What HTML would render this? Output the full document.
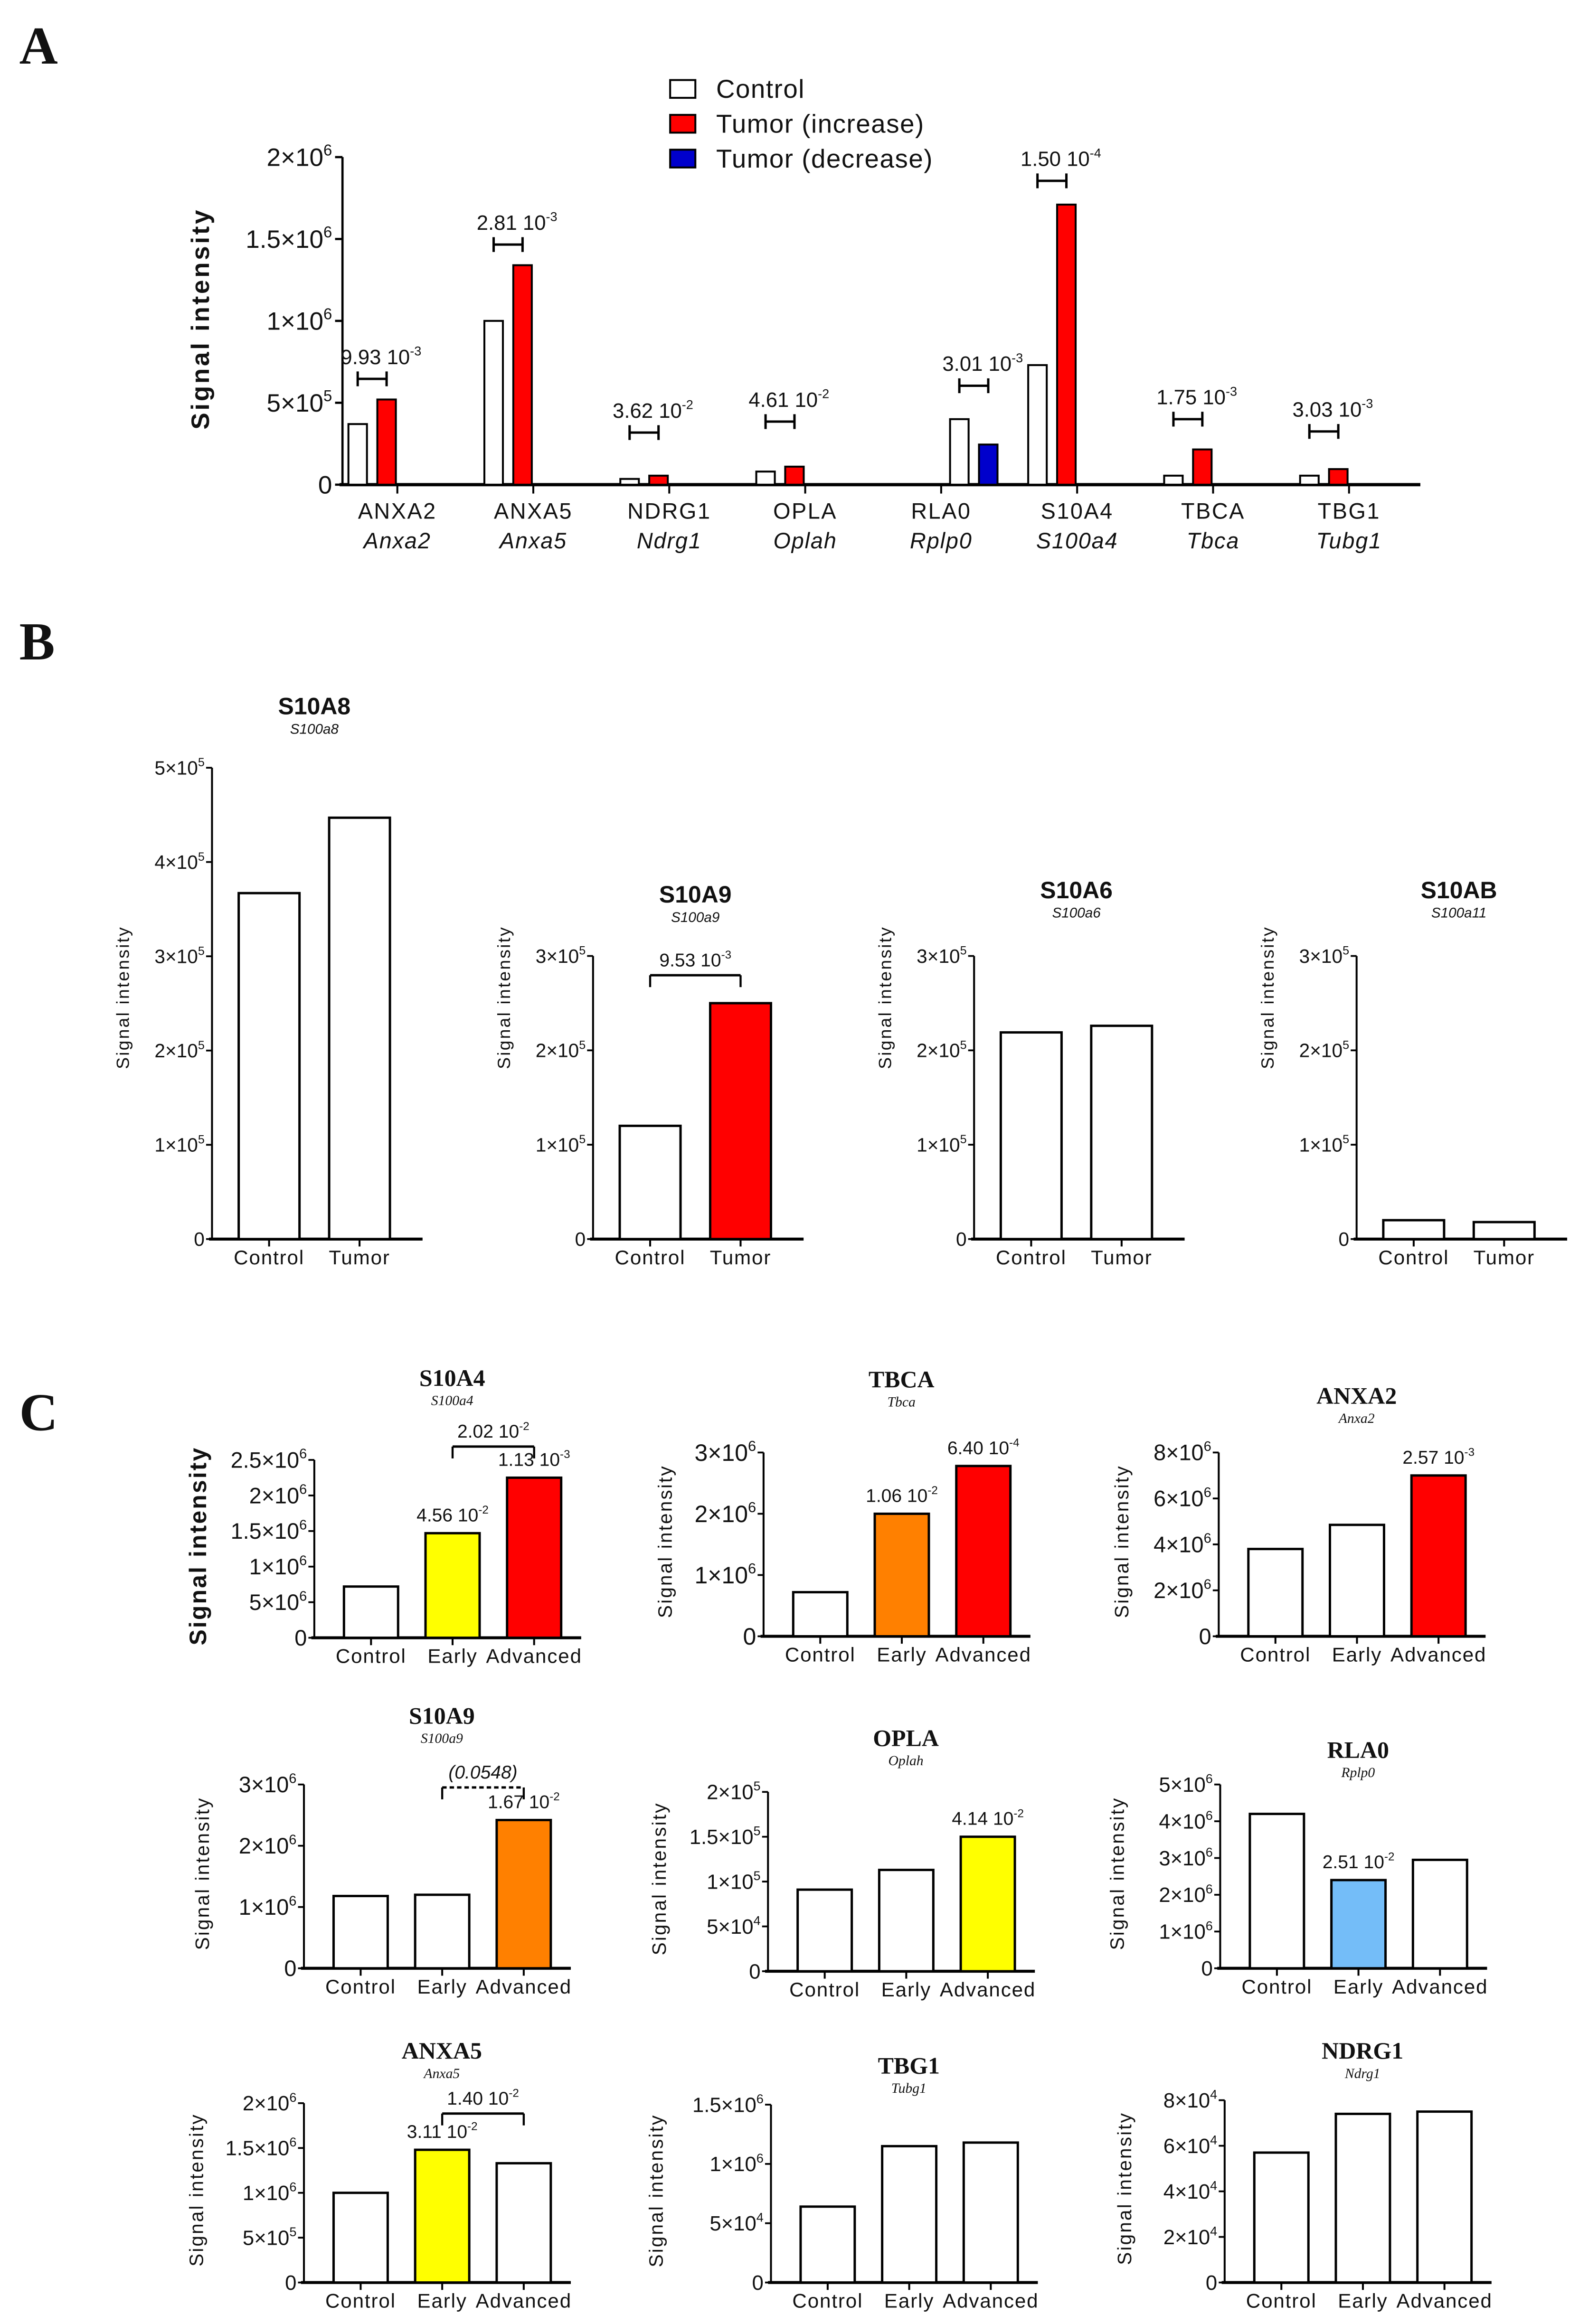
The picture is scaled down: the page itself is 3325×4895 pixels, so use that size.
<!DOCTYPE html>
<html><head><meta charset="utf-8">
<style>
html,body{margin:0;padding:0;background:#fff;}
svg{display:block;}
text{font-family:"Liberation Sans",sans-serif;fill:#111;}
.serif{font-family:"Liberation Serif",serif;}
</style></head>
<body>
<svg id="fig" xmlns="http://www.w3.org/2000/svg" width="3325" height="4895" viewBox="0 0 1065 1568" preserveAspectRatio="none">
<rect x="0" y="0" width="1065" height="1568" fill="#fff"/>
</svg>
<script>
// ---------- Panel A data ----------
const aCategories = ["ANXA2","ANXA5","NDRG1","OPLA","RLA0","S10A4","TBCA","TBG1"];
const aGenes = ["Anxa2","Anxa5","Ndrg1","Oplah","Rplp0","S100a4","Tbca","Tubg1"];
const aControl = [370000,1000000,35000,80000,400000,730000,55000,55000];
const aTumor = [520000,1340000,55000,110000,245000,1710000,215000,95000];
const aTumorKind = ["inc","inc","inc","inc","dec","inc","inc","inc"];
const aBracket = [646000,1466000,318000,385000,604000,1855000,400000,325000];
const aPMant = ["9.93 10","2.81 10","3.62 10","4.61 10","3.01 10","1.50 10","1.75 10","3.03 10"];
const aPExp = ["-3","-3","-2","-2","-3","-4","-3","-3"];
const aTicks = [0,500000,1000000,1500000,2000000];
const aTickMant = ["0","5×10","1×10","1.5×10","2×10"];
const aTickExp = ["","5","6","6","6"];

// ---------- Panel B data ----------
const bTitles = ["S10A8","S10A9","S10A6","S10AB"];
const bGenes = ["S100a8","S100a9","S100a6","S100a11"];
const bControl = [367000,120000,219000,20000];
const bTumor = [447000,250000,226000,18000];
const bTumorFill = ["#fff","#ff0000","#fff","#fff"];
const bGroups = ["Control","Tumor"];

// ---------- Panel C data ----------
const cTitles = ["S10A4","TBCA","ANXA2","S10A9","OPLA","RLA0","ANXA5","TBG1","NDRG1"];
const cGenes = ["S100a4","Tbca","Anxa2","S100a9","Oplah","Rplp0","Anxa5","Tubg1","Ndrg1"];
const cGroups = ["Control","Early","Advanced"];
const cControl = [720000,720000,3800000,1180000,91000,4200000,1000000,640000,57000];
const cEarly = [1470000,2000000,4850000,1200000,113000,2400000,1480000,1150000,74000];
const cAdvanced = [2250000,2780000,7000000,2420000,150000,2950000,1330000,1180000,75000];

const svg = document.getElementById('fig');
const NS = 'http://www.w3.org/2000/svg';
function mk(tag, attrs, parent){
  const e = document.createElementNS(NS, tag);
  for (const k in attrs) e.setAttribute(k, attrs[k]);
  (parent||svg).appendChild(e);
  return e;
}
function supText(x, y, mant, exp, size, anchor, extra){
  const t = mk('text', Object.assign({x:x, y:y, 'font-size':size, 'text-anchor':anchor||'middle'}, extra||{}));
  const s1 = mk('tspan', {}, t); s1.textContent = mant;
  if (exp){ const s2 = mk('tspan', {dy: -size*0.42, 'font-size': size*0.62}, t); s2.textContent = exp; }
  return t;
}
function line(x1,y1,x2,y2,w,dash){
  const a = {x1:x1,y1:y1,x2:x2,y2:y2,stroke:'#000','stroke-width':w||1.5};
  if (dash) a['stroke-dasharray'] = dash;
  return mk('line', a);
}
function letter(ch, x, y){
  const t = mk('text', {x:x,y:y,'font-size':36,'font-weight':'bold',class:'serif'});
  t.textContent = ch;
  
  
}

// =========== PANEL A ===========
letter('A', 13, 43);
(function(){
  const ax = 231, base = 327, topY = 106, tmax = 2000000, xend = 958;
  const Y = v => base - (v/tmax)*(base-topY);
  const tick0 = 268, step = 91.7, bw = 12.5;
  const slotX = (i,k) => tick0 + step*i - 33 + 19.5*k;
  const yl = line(ax, topY, ax, base, 1.5);
  
  
  const xl = line(ax-2, base, xend, base, 2.2);
  
  
  aTicks.forEach((v,i)=>{
    line(ax-5, Y(v), ax, Y(v), 1.5);
    const t = supText(ax-7, Y(v)+6, aTickMant[i], aTickExp[i], 17, 'end');
    
    
  });
  const yt = mk('text', {x:0,y:0,'font-size':17,'font-weight':'bold','text-anchor':'middle','letter-spacing':'1.5',transform:`translate(141,215) rotate(-90)`});
  yt.textContent = 'Signal intensity';
  
  
  aCategories.forEach((c,i)=>{
    const k0 = aTumorKind[i]==='dec' ? 2 : 0;
    const cx = slotX(i,k0), tx = slotX(i,k0+1);
    const r1 = mk('rect', {x:cx, y:Y(aControl[i]), width:bw, height:base-Y(aControl[i]), fill:'#fff', stroke:'#000','stroke-width':1.3});
    
    
    const r2 = mk('rect', {x:tx, y:Y(aTumor[i]), width:bw, height:base-Y(aTumor[i]), fill: aTumorKind[i]==='dec' ? '#0000cc' : '#ff0000', stroke:'#000','stroke-width':1.3});
    
    
    const tk = tick0 + step*i;
    line(tk, base, tk, base+6, 1.3);
    const l1 = mk('text', {x:tk, y:350, 'font-size':15, 'text-anchor':'middle','letter-spacing':'0.8'});
    l1.textContent = c;
    
    
    const l2 = mk('text', {x:tk, y:370, 'font-size':15, 'text-anchor':'middle','font-style':'italic','letter-spacing':'0.6'});
    l2.textContent = aGenes[i];
    
    
    const bx1 = cx + bw/2, bx2 = tx + bw/2, by = Y(aBracket[i]);
    line(bx1, by, bx2, by, 1.6);
    line(bx1, by-5, bx1, by+5, 1.6);
    line(bx2, by-5, bx2, by+5, 1.6);
    const p = supText((bx1+bx2)/2 + 6, by-10, aPMant[i], aPExp[i], 14, 'middle');
    
    
  });
  const leg = [['Control','#fff'],['Tumor (increase)','#ff0000'],['Tumor (decrease)','#0000cc']];
  leg.forEach((L,i)=>{
    const y = 60 + i*23.5;
    const r = mk('rect', {x:452, y:y-6, width:17, height:12, fill:L[1], stroke:'#000','stroke-width':1.3});
    
    
    const t = mk('text', {x:483, y:y+6, 'font-size':17.5, 'letter-spacing':'0.5'});
    t.textContent = L[0];
    
    
  });
})();

// =========== generic small bar panel ===========
function barPanel(o){
  const Y = v => o.base - (v/o.tmax)*(o.base-o.topY);
  const yl = line(o.ax, o.topY, o.ax, o.base, 1.3);
  
  
  const xl = line(o.ax-2, o.base, o.xend, o.base, 2);
  
  
  o.ticks.forEach((v,i)=>{
    line(o.ax-4, Y(v), o.ax, Y(v), 1.2);
    const t = supText(o.ax-5, Y(v)+o.tfs*0.35, o.tickMant[i], o.tickExp[i], o.tfs, 'end');
    
    
  });
  const yt = mk('text', {x:0,y:0,'font-size':o.yfs,'font-weight':o.ybold?'bold':'normal','text-anchor':'middle','letter-spacing':'1',transform:`translate(${o.ytx},${o.yty}) rotate(-90)`});
  yt.textContent = 'Signal intensity';
  
  
  const xs = [];
  o.values.forEach((v,i)=>{
    const x = o.x0 + o.step*i;
    xs.push(x + o.bw/2);
    const r = mk('rect', {x:x, y:Y(v), width:o.bw, height:o.base-Y(v), fill:o.fills[i], stroke:'#000','stroke-width':1.6});
    
    
    line(x+o.bw/2, o.base, x+o.bw/2, o.base+5, 1.3);
    const l = mk('text', {x:x+o.bw/2, y:o.base+17, 'font-size':13.5, 'text-anchor':'middle','letter-spacing':'0.6'});
    l.textContent = o.groups[i];
    
    
  });
  const ti = mk('text', {x:o.titleX, y:o.titleY, 'font-size':o.titleFs, 'font-weight':'bold','text-anchor':'middle', class:o.serif?'serif':''});
  ti.textContent = o.title;
  
  
  const ge = mk('text', {x:o.titleX, y:o.titleY+13, 'font-size':9.5, 'font-style':'italic','text-anchor':'middle', class:o.serif?'serif':'', fill:'#444'});
  ge.textContent = o.gene;
  
  
  (o.annots||[]).forEach(a=>{
    const t = supText(xs[a.i], Y(o.values[a.i]) - 8, a.m, a.e, 12.5, 'middle');
    
    
  });
  (o.brackets||[]).forEach(b=>{
    const x1 = xs[b.i], x2 = xs[b.j], by = b.y;
    line(x1, by, x2, by, 1.6, b.dash);
    line(x1, by, x1, by+8, 1.4);
    line(x2, by, x2, by+8, 1.4);
    const t = supText((x1+x2)/2, by-6, b.m, b.e, 12.5, 'middle', b.italic?{'font-style':'italic'}:{});
    
    
  });
}

// =========== PANEL B ===========
letter('B', 13, 445);
const bLayout = [
  {ax:143, topY:518, tmax:500000, ticks:[0,100000,200000,300000,400000,500000], tickMant:["0","1×10","2×10","3×10","4×10","5×10"], tickExp:["","5","5","5","5","5"], titleY:482},
  {ax:400, topY:645, tmax:300000, ticks:[0,100000,200000,300000], tickMant:["0","1×10","2×10","3×10"], tickExp:["","5","5","5"], titleY:609},
  {ax:657, topY:645, tmax:300000, ticks:[0,100000,200000,300000], tickMant:["0","1×10","2×10","3×10"], tickExp:["","5","5","5"], titleY:606},
  {ax:915, topY:645, tmax:300000, ticks:[0,100000,200000,300000], tickMant:["0","1×10","2×10","3×10"], tickExp:["","5","5","5"], titleY:606}
];
bTitles.forEach((t,i)=>{
  const L = bLayout[i];
  barPanel({id:'b-'+t.toLowerCase(), ax:L.ax, base:836, topY:L.topY, tmax:L.tmax, xend:L.ax+142,
    ticks:L.ticks, tickMant:L.tickMant, tickExp:L.tickExp, tfs:13,
    ytx:L.ax-56, yty:673, yfs:12, ybold:false,
    x0:L.ax+18, step:61, bw:41, values:[bControl[i], bTumor[i]], fills:['#fff', bTumorFill[i]], groups:bGroups,
    title:t, gene:bGenes[i], titleX:L.ax+69, titleY:L.titleY, titleFs:16, serif:false,
    brackets: i===1 ? [{i:0,j:1,y:658,m:'9.53 10',e:'-3'}] : []});
});

// =========== PANEL C ===========
letter('C', 13, 965);
const cLayout = [
  {ax:212, base:1105, topY:985, tmax:2500000, ticks:[0,500000,1000000,1500000,2000000,2500000], tickMant:["0","5×10","1×10","1.5×10","2×10","2.5×10"], tickExp:["","6","6","6","6","6"], titleY:935, ybold:true, yfs:16, tfs:15, ytx:139},
  {ax:515, base:1104, topY:980, tmax:3000000, ticks:[0,1000000,2000000,3000000], tickMant:["0","1×10","2×10","3×10"], tickExp:["","6","6","6"], titleY:936, ybold:false, yfs:13, tfs:16, ytx:453},
  {ax:822, base:1104, topY:980, tmax:8000000, ticks:[0,2000000,4000000,6000000,8000000], tickMant:["0","2×10","4×10","6×10","8×10"], tickExp:["","6","6","6","6"], titleY:947, ybold:false, yfs:13, tfs:15, ytx:761},
  {ax:205, base:1328, topY:1204, tmax:3000000, ticks:[0,1000000,2000000,3000000], tickMant:["0","1×10","2×10","3×10"], tickExp:["","6","6","6"], titleY:1163, ybold:false, yfs:13, tfs:15, ytx:141},
  {ax:518, base:1330, topY:1209, tmax:200000, ticks:[0,50000,100000,150000,200000], tickMant:["0","5×10","1×10","1.5×10","2×10"], tickExp:["","4","5","5","5"], titleY:1178, ybold:false, yfs:13, tfs:14, ytx:449},
  {ax:823, base:1328, topY:1204, tmax:5000000, ticks:[0,1000000,2000000,3000000,4000000,5000000], tickMant:["0","1×10","2×10","3×10","4×10","5×10"], tickExp:["","6","6","6","6","6"], titleY:1186, ybold:false, yfs:13, tfs:14, ytx:758},
  {ax:205, base:1540, topY:1419, tmax:2000000, ticks:[0,500000,1000000,1500000,2000000], tickMant:["0","5×10","1×10","1.5×10","2×10"], tickExp:["","5","6","6","6"], titleY:1389, ybold:false, yfs:13, tfs:14, ytx:137},
  {ax:520, base:1540, topY:1420, tmax:1500000, ticks:[0,500000,1000000,1500000], tickMant:["0","5×10","1×10","1.5×10"], tickExp:["","4","6","6"], titleY:1399, ybold:false, yfs:13, tfs:14, ytx:447},
  {ax:826, base:1540, topY:1417, tmax:80000, ticks:[0,20000,40000,60000,80000], tickMant:["0","2×10","4×10","6×10","8×10"], tickExp:["","4","4","4","4"], titleY:1389, ybold:false, yfs:13, tfs:14, ytx:763}
];
const cFills = [
  ['#fff','#ffff00','#ff0000'],['#fff','#ff8000','#ff0000'],['#fff','#fff','#ff0000'],
  ['#fff','#fff','#ff8000'],['#fff','#fff','#ffff00'],['#fff','#74bdf8','#fff'],
  ['#fff','#ffff00','#fff'],['#fff','#fff','#fff'],['#fff','#fff','#fff']
];
const cAnnots = [
  [{i:1,m:'4.56 10',e:'-2'},{i:2,m:'1.13 10',e:'-3'}],
  [{i:1,m:'1.06 10',e:'-2'},{i:2,m:'6.40 10',e:'-4'}],
  [{i:2,m:'2.57 10',e:'-3'}],
  [{i:2,m:'1.67 10',e:'-2'}],
  [{i:2,m:'4.14 10',e:'-2'}],
  [{i:1,m:'2.51 10',e:'-2'}],
  [{i:1,m:'3.11 10',e:'-2'}],
  [],[]
];
const cBrackets = [
  [{i:1,j:2,y:976,m:'2.02 10',e:'-2'}],[],[],
  [{i:1,j:2,y:1206,m:'(0.0548)',e:'',dash:'3,2',italic:true}],[],[],
  [{i:1,j:2,y:1426,m:'1.40 10',e:'-2'}],[],[]
];
cTitles.forEach((t,i)=>{
  const L = cLayout[i];
  barPanel({id:'c-'+t.toLowerCase(), ax:L.ax, base:L.base, topY:L.topY, tmax:L.tmax, xend:L.ax+180,
    ticks:L.ticks, tickMant:L.tickMant, tickExp:L.tickExp, tfs:L.tfs,
    ytx:L.ytx, yty:(L.base+L.topY)/2 - 2, yfs:L.yfs, ybold:L.ybold,
    x0:L.ax+20, step:55, bw:36.5, values:[cControl[i], cEarly[i], cAdvanced[i]], fills:cFills[i], groups:cGroups,
    title:t, gene:cGenes[i], titleX:L.ax+93, titleY:L.titleY, titleFs:16, serif:true,
    annots:cAnnots[i], brackets:cBrackets[i]});
});
</script>
</body></html>
